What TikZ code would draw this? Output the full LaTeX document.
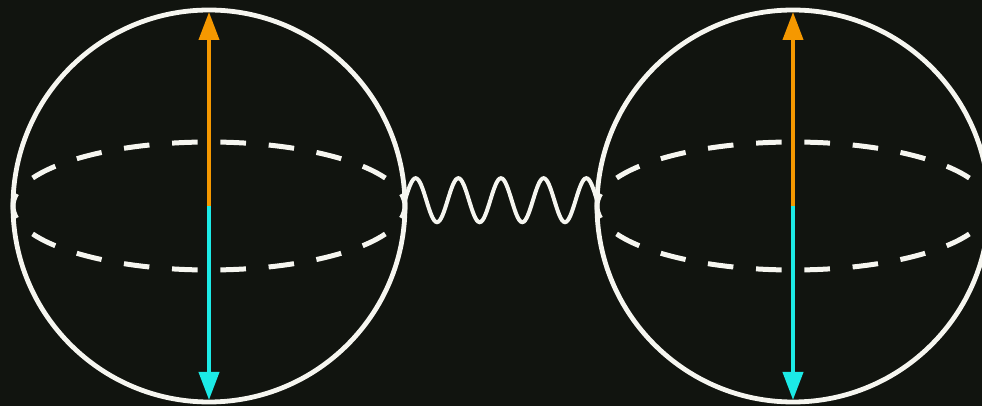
\documentclass[tikz,border=0pt]{standalone}
\usepackage{tikz}
\usetikzlibrary{arrows.meta, decorations}
\definecolor{bgdark}{RGB}{17,20,15}
\definecolor{rimwhite}{RGB}{246,246,240}
\definecolor{spinup}{RGB}{245,152,0}
\definecolor{spindown}{RGB}{28,234,230}

% sine wave made of half periods, so it may stop on a crest
\pgfdeclaredecoration{halfwave}{crest}{
  \state{crest}[width=+.5\pgfdecorationsegmentlength, next state=trough,
                switch if less than=+.45\pgfdecorationsegmentlength to final]{
    \pgfpathsine{\pgfpoint{.25\pgfdecorationsegmentlength}{\pgfdecorationsegmentamplitude}}
    \pgfpathcosine{\pgfpoint{.25\pgfdecorationsegmentlength}{-\pgfdecorationsegmentamplitude}}
  }
  \state{trough}[width=+.5\pgfdecorationsegmentlength, next state=crest,
                 switch if less than=+.45\pgfdecorationsegmentlength to final]{
    \pgfpathsine{\pgfpoint{.25\pgfdecorationsegmentlength}{-\pgfdecorationsegmentamplitude}}
    \pgfpathcosine{\pgfpoint{.25\pgfdecorationsegmentlength}{\pgfdecorationsegmentamplitude}}
  }
  \state{final}{\pgfpathlineto{\pgfpointdecoratedpathlast}}
}

\tikzset{
    sphere/.style={
        circle, draw=rimwhite, line width=2.4pt,
        minimum size=196pt, inner sep=0pt, outer sep=0pt
    },
    equator/.style={
        draw=rimwhite, line width=2.5pt,
        dash pattern=on 12.8pt off 11.38pt, dash phase=6.4pt
    },
    upvec/.style={
        -{Triangle[length=14pt, width=10pt]},
        line width=2pt, draw=spinup, fill=spinup, shorten >=1pt
    },
    downvec/.style={
        -{Triangle[length=14pt, width=10pt]},
        line width=2pt, draw=spindown, fill=spindown, shorten >=1pt
    },
    wavy/.style={
        draw=rimwhite, line width=2pt,
        decorate, decoration={halfwave, amplitude=11pt, segment length=21.33pt}
    },
}

\begin{document}
\begin{tikzpicture}[x=0.5pt, y=-0.5pt]

% ---- background / page size ----
\fill[bgdark] (0,0) rectangle (982,406);
\useasboundingbox (0,0) rectangle (982,406);

% ---- Left sphere ----
\node[sphere] (L) at (209,206) {};
\draw[equator] (L.center) ellipse [x radius=196, y radius=64];
\draw[upvec]   (L.center) -- (L.north);
\draw[downvec] (L.center) -- (L.south);

% ---- Right sphere ----
\node[sphere] (R) at (793,206) {};
\draw[equator] (R.center) ellipse [x radius=196, y radius=64];
\draw[upvec]   (R.center) -- (R.north);
\draw[downvec] (R.center) -- (R.south);

% ---- coupling ----
\draw[wavy] ([yshift=2.9pt]L.east) -- ([yshift=2.9pt]R.west);

\end{tikzpicture}
\end{document}
